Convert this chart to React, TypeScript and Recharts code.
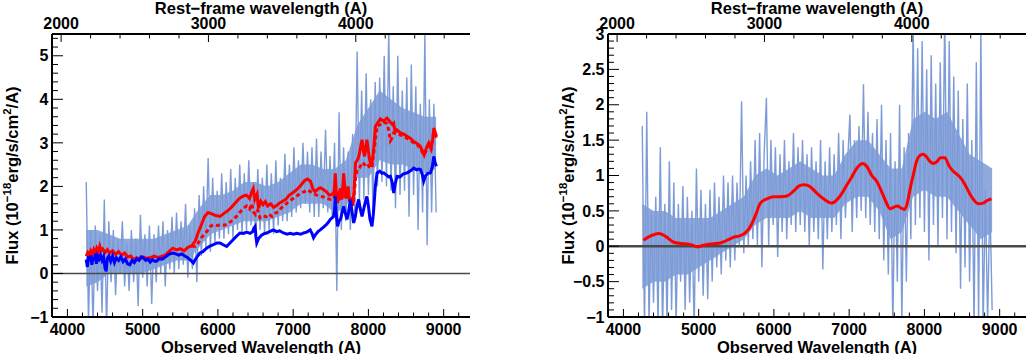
import React from 'react';
import { ComposedChart, Line, Area, XAxis, YAxis, ReferenceLine } from 'recharts';

// ---- data ----
// observed-frame wavelength grid of the noisy spectra: 4250 A, every 30 A
const specStart = 4250;
const specStep = 30;

// left panel: observed spectrum (light blue)
const obsFlux = [
  2.1, -1.1, 1.0, -1.2, 1.1, -0.4, 0.9, -0.9, 1.7, -1.3,
  1.2, -0.2, 1.0, -0.5, 0.8, 0.0, 1.2, -0.3, 0.7, -0.4,
  1.0, -0.2, 0.8, -0.75, 1.35, -0.1, 0.9, -0.3, 1.1, -0.7,
  0.9, -0.2, 1.1, 0.0, 1.2, -0.3, 1.0, 0.1, 1.3, 0.0,
  1.4, 0.1, 1.2, 0.2, 1.6, -0.1, 1.1, 0.1, 1.5, -0.2,
  1.8, 0.4, 2.0, 0.6, 2.65, 0.5, 2.2, 0.7, 1.9, 0.8,
  2.3, 0.8, 2.1, 0.9, 2.4, 0.8, 2.2, 1.0, 2.5, 0.9,
  2.3, 1.0, 2.6, 1.1, 2.1, 0.8, 2.4, 1.0, 2.2, 0.9,
  2.5, 1.0, 2.3, 0.9, 2.6, 1.1, 2.2, 1.2, 2.75, 1.2,
  2.5, 1.3, 2.9, 1.4, 2.6, 1.5, 3.0, 1.6, 2.8, 1.4,
  2.9, 1.3, 3.1, 1.3, 2.8, 1.5, 3.3, 1.4, 2.7, 1.3,
  3.0, -0.4, 3.7, 1.0, 2.9, 1.2, 2.8, 1.0, 3.2, 1.4,
  5.1, 1.6, 4.2, 1.7, 4.6, 1.8, 4.0, 1.4, 4.4, 2.0,
  4.5, 2.1, 5.0, 2.0, 5.6, 1.9, 4.3, 1.5, 5.0, 1.8,
  4.2, 1.9, 4.5, 1.3, 4.8, 1.8, 4.3, 1.0, 3.9, 1.4,
  5.5, 0.65, 4.0, 1.4, 3.9, 1.4,
];

// right panel: residual spectrum (light blue)
const resFlux = [
  1.7, -1.2, 1.9, -1.1, 0.5, -0.8, 0.7, -1.1, 1.4, -1.2,
  0.6, -1.1, 1.2, -0.9, 0.9, -1.1, 0.6, -0.5, 0.85, -0.9,
  0.7, -0.8, 0.5, -1.2, 1.1, -0.5, 0.8, -0.7, 0.6, -0.75,
  0.8, -0.5, 0.9, -0.3, 0.7, -0.4, 1.0, -0.2, 0.9, -0.3,
  1.0, -0.2, 0.9, 0.0, 2.05, -0.1, 1.0, 0.0, 1.2, 0.1,
  1.5, 0.0, 1.6, -0.3, 1.3, 2.1, 0.0, 1.5, 0.3, 1.4,
  -0.15, 1.3, 0.2, 1.5, 0.1, 1.2, 0.3, 1.6, 0.2, 1.4,
  0.3, 1.5, 0.2, 1.3, 0.0, 1.4, 0.2, 1.2, 0.1, 1.5,
  -0.33, 1.2, 0.1, 1.4, 0.2, 1.3, 0.3, 1.6, 0.1, 1.5,
  0.4, 1.2, 1.86, 0.2, 1.5, 0.4, 1.7, 0.5, 2.29, 0.4,
  1.9, 0.3, 1.6, 0.2, 1.8, 0.1, 2.0, -0.2, 1.5, -0.4,
  1.6, -1.2, 1.2, -0.5, 2.0, -1.1, 1.4, -0.5, 1.6, 0.1,
  3.2, 0.3, 2.8, 0.4, 2.9, 0.2, 2.5, -0.2, 2.7, 0.3,
  2.3, 0.0, 2.6, 0.4, 3.3, 0.1, 2.9, 0.2, 2.4, -0.1,
  2.2, -0.6, 1.8, -0.3, 2.3, -0.5, 1.5, -1.2, 2.6, -1.1,
  3.1, -1.2, 0.8, -1.1, 0.7, -0.9,
];

// dense core of the noisy spectra, every 150 A from 4250 A: [low, high]
const coreStart = 4250;
const coreStep = 150;
const obsCore: [number, number][] = [
  [-0.3, 1.0], [-0.2, 1.0], [0.0, 0.9], [0.0, 0.8], [0.0, 0.8], [0.0, 0.8], [0.1, 0.8], [0.2, 0.9],
  [0.3, 1.0], [0.3, 1.1], [0.6, 1.5], [0.9, 1.8], [1.0, 1.8], [1.1, 1.9], [1.2, 2.1], [1.2, 2.1],
  [1.2, 2.0], [1.3, 2.1], [1.4, 2.3], [1.6, 2.5], [1.6, 2.5], [1.6, 2.4], [1.4, 2.4], [1.5, 2.6],
  [2.2, 3.4], [2.2, 3.8], [2.6, 4.2], [2.5, 4.0], [2.5, 3.8], [2.4, 3.7], [2.3, 3.6], [2.4, 3.6],
];
const resCore: [number, number][] = [
  [-0.6, 0.6], [-0.5, 0.5], [-0.5, 0.5], [-0.4, 0.4], [-0.4, 0.4], [-0.3, 0.4], [-0.2, 0.4], [-0.1, 0.5],
  [0.0, 0.6], [0.1, 0.7], [0.3, 1.0], [0.4, 1.1], [0.4, 1.0], [0.4, 1.1], [0.5, 1.2], [0.4, 1.1],
  [0.4, 1.0], [0.4, 1.0], [0.6, 1.3], [0.7, 1.5], [0.7, 1.5], [0.5, 1.3], [0.1, 1.1], [0.2, 1.1],
  [0.7, 1.8], [0.8, 1.9], [0.7, 1.8], [0.7, 1.9], [0.5, 1.6], [0.3, 1.3], [0.1, 1.2], [0.2, 1.1],
];

// [wavelength, flux]
const redSolid: [number, number][] = [
  [4250, 0.4], [4270, 0.48], [4290, 0.42], [4310, 0.52], [4330, 0.45], [4350, 0.55], [4370, 0.47],
  [4390, 0.58], [4410, 0.5], [4430, 0.63], [4450, 0.52], [4470, 0.56], [4500, 0.48], [4530, 0.55],
  [4560, 0.47], [4600, 0.52], [4640, 0.44], [4680, 0.5], [4720, 0.42], [4760, 0.47], [4800, 0.38],
  [4840, 0.4], [4880, 0.32], [4920, 0.36], [4960, 0.33], [5000, 0.38], [5050, 0.35], [5100, 0.36],
  [5150, 0.4], [5200, 0.37], [5250, 0.39], [5300, 0.42], [5350, 0.5], [5400, 0.58], [5450, 0.54],
  [5500, 0.57], [5550, 0.52], [5600, 0.6], [5650, 0.63], [5700, 0.75], [5740, 0.95], [5780, 1.12],
  [5820, 1.3], [5870, 1.4], [5920, 1.37], [5970, 1.33], [6030, 1.31], [6080, 1.38], [6130, 1.44],
  [6180, 1.52], [6230, 1.62], [6290, 1.73], [6340, 1.78], [6380, 1.8], [6420, 1.72], [6450, 1.88],
  [6470, 1.95], [6490, 1.7], [6520, 1.82], [6540, 1.5], [6570, 1.66], [6600, 1.58], [6630, 1.65],
  [6660, 1.55], [6700, 1.6], [6740, 1.52], [6780, 1.56], [6820, 1.62], [6860, 1.66], [6900, 1.7],
  [6950, 1.8], [7000, 1.86], [7050, 1.93], [7100, 2.02], [7150, 2.13], [7190, 2.17], [7230, 2.12],
  [7260, 1.95], [7290, 1.88], [7330, 1.94], [7360, 1.97], [7400, 1.93], [7440, 1.88], [7480, 1.8],
  [7520, 1.82], [7545, 1.88], [7560, 2.3], [7575, 1.75], [7590, 1.62], [7610, 1.85], [7630, 1.95],
  [7650, 1.7], [7670, 2.3], [7690, 1.9], [7710, 1.72], [7730, 2.0], [7750, 1.65], [7770, 1.75],
  [7790, 1.55], [7810, 1.95], [7830, 2.55], [7860, 2.62], [7880, 2.75], [7900, 2.95], [7915, 3.07],
  [7935, 2.8], [7950, 2.69], [7965, 2.9], [7980, 3.07], [8000, 2.8], [8017, 2.61], [8040, 2.46],
  [8060, 2.7], [8075, 2.95], [8092, 3.38], [8120, 3.45], [8158, 3.55], [8200, 3.5], [8247, 3.57],
  [8290, 3.48], [8320, 3.42], [8336, 3.45], [8355, 3.25], [8380, 3.3], [8425, 3.23], [8470, 3.2],
  [8514, 3.15], [8560, 3.1], [8602, 3.03], [8650, 2.98], [8691, 2.92], [8720, 2.8], [8740, 2.72],
  [8770, 2.88], [8802, 3.0], [8833, 2.88], [8855, 3.1], [8869, 3.34], [8885, 3.25], [8904, 3.15],
];

const redDashed: [number, number][] = [
  [5650, 0.63], [5700, 0.62], [5740, 0.7], [5780, 0.82], [5820, 0.9], [5860, 0.98], [5900, 1.08],
  [5940, 1.12], [5990, 1.1], [6040, 1.12], [6090, 1.11], [6140, 1.15], [6190, 1.22], [6240, 1.3],
  [6290, 1.4], [6340, 1.5], [6380, 1.55], [6420, 1.48], [6450, 1.6], [6470, 1.42], [6500, 1.35],
  [6530, 1.45], [6560, 1.28], [6600, 1.33], [6640, 1.3], [6680, 1.36], [6720, 1.31], [6760, 1.38],
  [6800, 1.42], [6840, 1.5], [6880, 1.56], [6920, 1.62], [6960, 1.68], [7000, 1.72], [7050, 1.78],
  [7100, 1.85], [7150, 1.88], [7190, 1.92], [7230, 1.88], [7270, 1.84], [7310, 1.8], [7360, 1.77],
  [7400, 1.76], [7450, 1.72], [7500, 1.7], [7540, 1.72], [7560, 1.9], [7580, 1.65], [7620, 1.72],
  [7670, 1.8], [7720, 1.72], [7760, 1.7], [7800, 1.62], [7830, 2.2], [7850, 2.38], [7880, 2.42],
  [7920, 2.55], [7950, 2.5], [7980, 2.54], [8010, 2.45], [8047, 2.42], [8080, 2.9], [8115, 3.38],
  [8160, 3.42], [8200, 3.47], [8247, 3.45], [8275, 3.25], [8292, 3.05], [8310, 3.1], [8336, 3.23],
  [8380, 3.22], [8425, 3.18], [8470, 3.16], [8514, 3.1], [8560, 3.05], [8602, 3.0], [8650, 2.95],
  [8691, 2.88], [8735, 2.72], [8770, 2.82], [8802, 2.95], [8833, 2.85], [8869, 3.25], [8904, 3.12],
];

const blueModel: [number, number][] = [
  [4250, 0.32], [4265, 0.15], [4280, 0.4], [4295, 0.28], [4310, 0.42], [4325, 0.2], [4340, 0.38],
  [4355, 0.3], [4370, 0.45], [4385, 0.22], [4400, 0.4], [4420, 0.33], [4440, 0.42], [4460, 0.3],
  [4480, 0.38], [4500, 0.12], [4515, 0.05], [4530, 0.35], [4550, 0.4], [4575, 0.28], [4600, 0.4],
  [4625, 0.25], [4650, 0.36], [4680, 0.3], [4710, 0.38], [4740, 0.27], [4770, 0.33], [4800, 0.22],
  [4830, 0.2], [4860, 0.3], [4890, 0.25], [4920, 0.34], [4950, 0.3], [4980, 0.38], [5007, 0.36],
  [5040, 0.3], [5070, 0.33], [5100, 0.26], [5130, 0.32], [5160, 0.28], [5185, 0.28], [5220, 0.34],
  [5260, 0.33], [5300, 0.38], [5340, 0.43], [5380, 0.46], [5406, 0.47], [5440, 0.45], [5480, 0.42],
  [5520, 0.45], [5560, 0.4], [5600, 0.36], [5640, 0.3], [5673, 0.24], [5700, 0.32], [5730, 0.4],
  [5761, 0.47], [5800, 0.5], [5850, 0.58], [5894, 0.63], [5940, 0.66], [5990, 0.7], [6027, 0.7],
  [6070, 0.66], [6116, 0.62], [6160, 0.7], [6205, 0.78], [6250, 0.86], [6293, 0.93], [6340, 0.92],
  [6380, 0.95], [6427, 0.92], [6460, 0.96], [6480, 1.05], [6494, 1.08], [6505, 0.85], [6516, 0.7],
  [6540, 0.8], [6580, 0.88], [6620, 0.92], [6650, 0.93], [6700, 0.97], [6738, 1.0], [6780, 0.96],
  [6820, 0.98], [6871, 0.93], [6920, 0.9], [6960, 0.92], [7005, 0.9], [7050, 0.92], [7100, 0.9],
  [7138, 0.93], [7180, 0.95], [7226, 1.0], [7250, 0.92], [7271, 0.82], [7300, 0.9], [7330, 0.96],
  [7360, 1.0], [7400, 1.06], [7440, 1.12], [7470, 1.18], [7493, 1.24], [7520, 1.28], [7537, 1.31],
  [7550, 1.45], [7560, 1.77], [7570, 1.4], [7591, 1.08], [7610, 1.2], [7630, 1.25], [7650, 1.4],
  [7671, 1.54], [7690, 1.4], [7715, 1.24], [7735, 1.4], [7760, 1.7], [7780, 1.45], [7804, 1.16],
  [7825, 1.3], [7845, 1.52], [7870, 1.7], [7890, 1.5], [7915, 1.31], [7940, 1.5], [7960, 1.65],
  [7980, 1.77], [8000, 1.55], [8020, 1.25], [8047, 1.08], [8065, 1.35], [8080, 1.7], [8092, 2.0],
  [8115, 2.31], [8150, 2.35], [8180, 2.3], [8203, 2.31], [8240, 2.26], [8270, 2.22], [8292, 2.23],
  [8315, 2.1], [8336, 1.85], [8355, 2.05], [8380, 2.23], [8420, 2.22], [8460, 2.28], [8514, 2.31],
  [8560, 2.36], [8602, 2.42], [8640, 2.38], [8670, 2.4], [8691, 2.39], [8715, 2.28], [8735, 2.12],
  [8760, 2.25], [8790, 2.3], [8824, 2.31], [8850, 2.45], [8869, 2.69], [8885, 2.55], [8904, 2.46],
];

const redSmooth: [number, number][] = [
  [4265, 0.085], [4370, 0.15], [4473, 0.18], [4560, 0.14], [4671, 0.057], [4760, 0.04], [4848, 0.033],
  [4920, 0.015], [4981, -0.01], [5050, 0.01], [5113, 0.024], [5200, 0.035], [5290, 0.047], [5380, 0.085],
  [5466, 0.13], [5555, 0.15], [5630, 0.2], [5687, 0.28], [5760, 0.45], [5820, 0.61], [5908, 0.67],
  [5996, 0.7], [6090, 0.7], [6173, 0.71], [6261, 0.78], [6330, 0.85], [6394, 0.87], [6450, 0.86],
  [6504, 0.82], [6580, 0.74], [6659, 0.67], [6769, 0.61], [6880, 0.71], [6960, 0.85], [7034, 0.98],
  [7100, 1.1], [7180, 1.17], [7240, 1.12], [7300, 1.0], [7366, 0.92], [7420, 0.8], [7480, 0.65],
  [7543, 0.53], [7590, 0.55], [7640, 0.57], [7690, 0.54], [7735, 0.52], [7770, 0.6], [7808, 0.8],
  [7850, 1.0], [7896, 1.2], [7950, 1.29], [7985, 1.3], [8030, 1.26], [8073, 1.2], [8120, 1.17],
  [8161, 1.19], [8215, 1.25], [8272, 1.25], [8330, 1.13], [8383, 1.06], [8440, 1.01], [8494, 0.95],
  [8550, 0.85], [8604, 0.74], [8660, 0.65], [8715, 0.6], [8781, 0.61], [8840, 0.65], [8891, 0.67],
];

// axes
const obsDomain = [3795, 9350];
const zFactor = 1.958; // observed / rest-frame wavelength
const restDomain = [obsDomain[0] / zFactor, obsDomain[1] / zFactor];
const obsMajor = [4000, 5000, 6000, 7000, 8000, 9000];
const restMajor = [2000, 3000, 4000];
const leftYDomain = [-1, 5.5];
const leftYMajor = [-1, 0, 1, 2, 3, 4, 5];
const rightYDomain = [-1, 3];
const rightYMajor = [-1, -0.5, 0, 0.5, 1, 1.5, 2, 2.5, 3];

const steps = (a: number, b: number, s: number) => {
  const out: number[] = [];
  for (let v = a; v <= b + 1e-9; v += s) out.push(Math.round(v * 1000) / 1000);
  return out;
};
const obsTicks = steps(3800, 9200, 200);
const restTicks = steps(2000, 4600, 200);
const leftYTicks = steps(-1, 5.4, 0.2);
const rightYTicks = steps(-1, 3, 0.1);

const toPts = (arr: [number, number][]) => arr.map(([w, f]) => ({ w, f }));
// noisy spectra carry their rest-frame wavelength; they are drawn on the top (rest) axis
const gridPts = (vals: number[]) =>
  vals.map((f, i) => {
    const w = specStart + i * specStep;
    return { w, r: w / zFactor, f };
  });
const corePts = (band: [number, number][]) =>
  band.map((b, i) => {
    const w = coreStart + i * coreStep;
    return { w, r: w / zFactor, band: b };
  });

const FONT = '"Liberation Sans", Arial, Helvetica, sans-serif';
const tickStyle = { fontFamily: FONT, fontWeight: 700, fontSize: 16, fill: '#000' };
const titleStyle = { fontFamily: FONT, fontWeight: 700, fontSize: 16.5, fill: '#000' };

const isIn = (v: number, list: number[]) => list.some((m) => Math.abs(m - v) < 1e-6);
const fmt = (v: number) => (v < 0 ? '\u2212' + String(Math.abs(v)) : String(v));

const BottomTick = (major: number[]) => (props: any) => {
  const { x, y, payload } = props;
  const big = isIn(payload.value, major);
  return (
    <g>
      <line x1={x} x2={x} y1={y} y2={y - (big ? 8 : 4.5)} stroke="#000" strokeWidth={1} />
      {big && (
        <text x={x} y={y + 18} textAnchor="middle" style={tickStyle}>
          {fmt(payload.value)}
        </text>
      )}
    </g>
  );
};

const TopTick = (major: number[]) => (props: any) => {
  const { x, y, payload } = props;
  const big = isIn(payload.value, major);
  return (
    <g>
      <line x1={x} x2={x} y1={y} y2={y + (big ? 8 : 4.5)} stroke="#000" strokeWidth={1} />
      {big && (
        <text x={x} y={y - 4.7} textAnchor="middle" style={tickStyle}>
          {fmt(payload.value)}
        </text>
      )}
    </g>
  );
};

const LeftTick = (major: number[]) => (props: any) => {
  const { x, y, payload } = props;
  const big = isIn(payload.value, major);
  return (
    <g>
      <line x1={x} x2={x + (big ? 11 : 6)} y1={y} y2={y} stroke="#000" strokeWidth={1} />
      {big && (
        <text x={x - 3.5} y={y + 5.7} textAnchor="end" style={tickStyle}>
          {fmt(payload.value)}
        </text>
      )}
    </g>
  );
};

const FluxTitle = ({ x, y }: { x: number; y: number }) => (
  <text transform={`translate(${x},${y}) rotate(-90)`} textAnchor="middle" style={titleStyle}>
    Flux (10
    <tspan dy={-7} fontSize={11.5}>{'\u221218'}</tspan>
    <tspan dy={7}>erg/s/cm</tspan>
    <tspan dy={-7} fontSize={11.5}>2</tspan>
    <tspan dy={7}>/A)</tspan>
  </text>
);

interface PanelProps {
  width: number;
  yAxisWidth: number;
  rightMargin: number;
  yDomain: number[];
  yTicks: number[];
  yMajor: number[];
  children: React.ReactNode;
}

const PLOT_TOP = 34;
const PLOT_BOTTOM = 317;
const HEIGHT = 354;

const Panel = ({ width, yAxisWidth, rightMargin, yDomain, yTicks, yMajor, children }: PanelProps) => {
  const cx = yAxisWidth + (width - yAxisWidth - rightMargin) / 2;
  const cy = (PLOT_TOP + PLOT_BOTTOM) / 2;
  return (
    <ComposedChart width={width} height={HEIGHT} margin={{ top: 0, right: rightMargin, bottom: 0, left: 0 }}>
      <XAxis
        xAxisId="obs"
        dataKey="w"
        type="number"
        domain={obsDomain}
        allowDataOverflow
        ticks={obsTicks}
        interval={0}
        height={HEIGHT - PLOT_BOTTOM}
        tickSize={0}
        tickMargin={0}
        tickLine={false}
        axisLine={{ stroke: '#000', strokeWidth: 2 }}
        tick={BottomTick(obsMajor)}
        label={() => (
          <text x={cx} y={352.5} textAnchor="middle" style={titleStyle}>
            Observed Wavelength (A)
          </text>
        )}
      />
      <XAxis
        xAxisId="rest"
        dataKey="r"
        orientation="top"
        type="number"
        domain={restDomain}
        allowDataOverflow
        ticks={restTicks}
        interval={0}
        height={PLOT_TOP}
        tickSize={0}
        tickMargin={0}
        tickLine={false}
        axisLine={{ stroke: '#000', strokeWidth: 2 }}
        tick={TopTick(restMajor)}
        label={() => (
          <text x={cx} y={13.5} textAnchor="middle" style={titleStyle}>
            {'Rest\u2212frame wavelength (A)'}
          </text>
        )}
      />
      <YAxis
        yAxisId="flux"
        type="number"
        domain={yDomain}
        allowDataOverflow
        ticks={yTicks}
        interval={0}
        width={yAxisWidth}
        tickSize={0}
        tickMargin={0}
        tickLine={false}
        axisLine={{ stroke: '#000', strokeWidth: 2 }}
        tick={LeftTick(yMajor)}
        label={() => <FluxTitle x={yAxisWidth - 34} y={cy} />}
      />
      <YAxis
        yAxisId="frame"
        orientation="right"
        type="number"
        domain={yDomain}
        allowDataOverflow
        width={0}
        tick={false}
        tickLine={false}
        axisLine={{ stroke: '#000', strokeWidth: 2 }}
      />
      {children}
    </ComposedChart>
  );
};

const seriesProps = { xAxisId: 'obs', yAxisId: 'flux', dataKey: 'f', dot: false, isAnimationActive: false };
const noisyProps = { ...seriesProps, xAxisId: 'rest', type: 'linear' as const, stroke: '#7d9cd7', strokeWidth: 1.4 };
const coreProps = {
  xAxisId: 'rest',
  yAxisId: 'flux',
  dataKey: 'band',
  type: 'linear' as const,
  stroke: 'none',
  fill: '#7f9dd8',
  fillOpacity: 0.88,
  isAnimationActive: false,
};

export default function App() {
  return (
    <div style={{ position: 'absolute', left: 0, top: 0, width: 1027, height: 354, background: '#fff' }}>
      <div style={{ position: 'absolute', left: 0, top: 0 }}>
        <Panel width={480} yAxisWidth={52} rightMargin={10} yDomain={leftYDomain} yTicks={leftYTicks} yMajor={leftYMajor}>
          <Area {...coreProps} data={corePts(obsCore)} />
          <Line {...noisyProps} data={gridPts(obsFlux)} />
          <ReferenceLine xAxisId="obs" yAxisId="flux" y={0} stroke="#4a4a4a" strokeWidth={1.5} />
          <Line {...seriesProps} data={toPts(redSolid)} type="linear" stroke="#ff0000" strokeWidth={3} />
          <Line
            {...seriesProps}
            data={toPts(redDashed)}
            type="linear"
            stroke="#ff0000"
            strokeWidth={3}
            strokeDasharray="4 3"
          />
          <Line {...seriesProps} data={toPts(blueModel)} type="linear" stroke="#0000ff" strokeWidth={3} />
        </Panel>
      </div>
      <div style={{ position: 'absolute', left: 520, top: 0 }}>
        <Panel width={507} yAxisWidth={88} rightMargin={1} yDomain={rightYDomain} yTicks={rightYTicks} yMajor={rightYMajor}>
          <Area {...coreProps} data={corePts(resCore)} />
          <Line {...noisyProps} data={gridPts(resFlux)} />
          <ReferenceLine xAxisId="obs" yAxisId="flux" y={0} stroke="#4a4a4a" strokeWidth={2.5} />
          <Line {...seriesProps} data={toPts(redSmooth)} type="monotone" stroke="#ff0000" strokeWidth={3} />
        </Panel>
      </div>
    </div>
  );
}
